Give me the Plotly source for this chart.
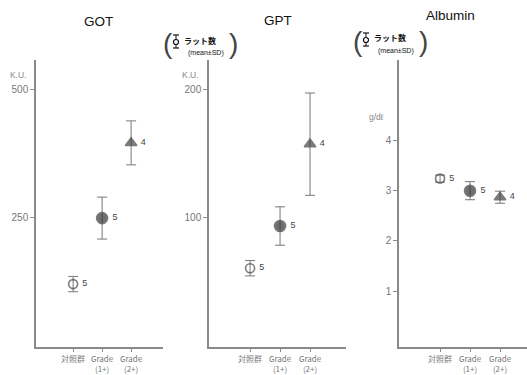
import plotly.graph_objects as go

categories = ["対照群", "Grade<br>(1+)", "Grade<br>(2+)"]
n_rats = [5, 5, 4]

got_mean = [119, 248, 395]
got_sd = [15, 41, 43]

gpt_mean = [60, 93, 157]
gpt_sd = [6, 15, 40]

alb_mean = [3.24, 3.00, 2.87]
alb_sd = [0.07, 0.18, 0.12]

got_ticks = [250, 500]
gpt_ticks = [100, 200]
alb_ticks = [1, 2, 3, 4]

titles = ["GOT", "GPT", "Albumin"]
units = ["K.U.", "K.U.", "g/dℓ"]

W, H = 527, 375
def px(x):
    return x / W
def py(y):
    return 1 - y / H

marker_symbols = ["circle-open", "circle", "triangle-up"]
marker_sizes = [9, 11, 10]
marker_colors = ["#444", "#333", "#444"]

fig = go.Figure()

panels = [
    (got_mean, got_sd, got_ticks, "x", "y"),
    (gpt_mean, gpt_sd, gpt_ticks, "x2", "y2"),
    (alb_mean, alb_sd, alb_ticks, "x3", "y3"),
]

for mean, sd, ticks, xa, ya in panels:
    fig.add_trace(go.Scatter(
        x=categories, y=mean, xaxis=xa, yaxis=ya,
        mode="markers+text",
        text=[f" {n}" for n in n_rats],
        textposition="middle right",
        textfont=dict(size=9, color="#444", family="Liberation Sans"),
        marker=dict(symbol=marker_symbols, size=marker_sizes, color=marker_colors,
                    line=dict(width=1.6, color="#444")),
        error_y=dict(type="data", array=sd, visible=True, color="#777", thickness=1, width=5),
        showlegend=False, cliponaxis=False,
    ))

ydom = [py(346.5), py(60)]
axis_common = dict(showline=True, linecolor="#8a8a8a", linewidth=1.5, ticks="outside",
                   ticklen=4, tickcolor="#8a8a8a", showgrid=False, zeroline=False)
xfont = dict(size=8, color="#777", family="Noto Sans CJK JP, Liberation Sans")
yfont = dict(size=10, color="#777", family="Liberation Sans")

fig.update_layout(
    width=W, height=H, margin=dict(l=0, r=0, t=0, b=0),
    paper_bgcolor="white", plot_bgcolor="white",
    xaxis=dict(domain=[px(36), px(163)], range=[-1.28, 3.1], type="category",
               anchor="y", tickfont=xfont, **axis_common),
    yaxis=dict(domain=ydom, range=[-3, 557], anchor="x", tickvals=got_ticks,
               tickfont=yfont, **axis_common),
    xaxis2=dict(domain=[px(209), px(346)], range=[-1.37, 3.2], type="category",
                anchor="y2", tickfont=xfont, **axis_common),
    yaxis2=dict(domain=ydom, range=[-1.2, 222.8], anchor="x2", tickvals=gpt_ticks,
                tickfont=yfont, **axis_common),
    xaxis3=dict(domain=[px(399), px(527)], range=[-1.37, 2.9], type="category",
                anchor="y3", tickfont=xfont, **axis_common),
    yaxis3=dict(domain=ydom, range=[-0.1, 5.6], anchor="x3", tickvals=alb_ticks,
                tickfont=yfont, **axis_common),
)

def note(text, x, y, size, color="#111", family="Liberation Sans", xanchor="center"):
    return dict(text=text, x=px(x), y=py(y), xref="paper", yref="paper",
                xanchor=xanchor, yanchor="middle", showarrow=False,
                font=dict(size=size, color=color, family=family))

ann = []
for t, (x, y) in zip(titles, [(98, 21), (278, 20), (450, 16)]):
    ann.append(note(t, x, y, 13.5, "#111"))
for u, (x, y) in zip(units, [(18, 75), (190, 75), (376, 117)]):
    ann.append(note(u, x, y, 8.5, "#888"))

shapes = []
for x0, y0 in [(165, 0), (355, -2)]:
    ann.append(note("(", x0 + 3, 44 + y0, 28, "#444", "Liberation Sans"))
    ann.append(note(")", x0 + 68, 44 + y0, 28, "#444", "Liberation Sans"))
    ann.append(note("<b>ラット数</b>", x0 + 17, 40 + y0, 8, "#111", "Noto Sans CJK JP",
                    xanchor="left"))
    ann.append(note("(mean±SD)", x0 + 21, 53 + y0, 7, "#111", xanchor="left"))
    cx = x0 + 11
    shapes.append(dict(type="line", xref="paper", yref="paper", x0=px(cx), x1=px(cx),
                       y0=py(35 + y0), y1=py(48 + y0), line=dict(color="#111", width=1)))
    shapes.append(dict(type="line", xref="paper", yref="paper", x0=px(cx - 3), x1=px(cx + 3),
                       y0=py(35 + y0), y1=py(35 + y0), line=dict(color="#111", width=1.2)))
    shapes.append(dict(type="line", xref="paper", yref="paper", x0=px(cx - 3), x1=px(cx + 3),
                       y0=py(48 + y0), y1=py(48 + y0), line=dict(color="#111", width=1.2)))
    shapes.append(dict(type="circle", xref="paper", yref="paper", x0=px(cx - 2.5), x1=px(cx + 2.5),
                       y0=py(44.5 + y0), y1=py(39.5 + y0), fillcolor="white",
                       line=dict(color="#111", width=1.2)))

fig.update_layout(annotations=ann, shapes=shapes)

fig.write_html("out.html")
